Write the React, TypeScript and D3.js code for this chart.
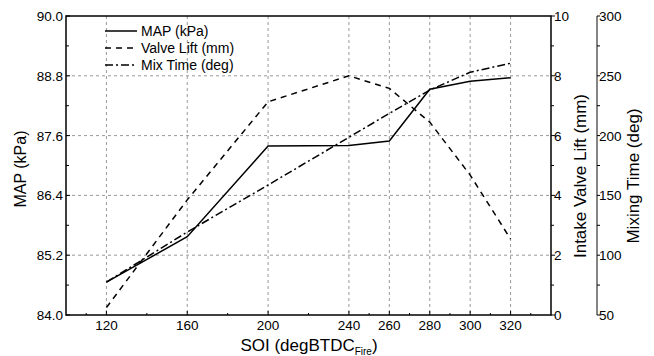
import React from "react";
import * as d3 from "d3";

const soi = [120, 160, 200, 240, 260, 280, 300, 320];
const mapKpa = [84.66, 85.57, 87.39, 87.4, 87.49, 88.53, 88.69, 88.76];
const valveLift = [0.25, 3.85, 7.13, 8.0, 7.58, 6.45, 4.68, 2.54];
const mixTime = [77.5, 119.4, 158.7, 198.6, 218.6, 238, 253, 260.5];

const xTicks = [120, 160, 200, 240, 260, 280, 300, 320];
const xMinor = [110, 140, 180, 220, 250, 270, 290, 310, 330];
const yLeftTicks = [84.0, 85.2, 86.4, 87.6, 88.8, 90.0];
const yRightTicks = [0, 2, 4, 6, 8, 10];
const yMixTicks = [50, 100, 150, 200, 250, 300];

const legendItems = [
  { label: "MAP (kPa)", dash: "none" },
  { label: "Valve Lift (mm)", dash: "6,5" },
  { label: "Mix Time (deg)", dash: "8,3,2,3" },
];

export default function App() {
  const L = 66, R = 551, T = 16, B = 315;
  const x = d3.scaleLinear().domain([100, 340]).range([L, R]);
  const yL = d3.scaleLinear().domain([84, 90]).range([B, T]);
  const yR = d3.scaleLinear().domain([0, 10]).range([B, T]);
  const yM = d3.scaleLinear().domain([50, 300]).range([B, T]);
  const font = "Liberation Sans, Arial, sans-serif";

  const line = (ys: number[], sc: d3.ScaleLinear<number, number>) =>
    d3.line<number>().x((_, i) => x(soi[i])).y((v) => sc(v))(ys) || "";

  const mixAxisX = 597;

  return (
    <svg width={654} height={356} style={{ position: "absolute", left: 0, top: 0 }} fontFamily={font}>
      <rect width={654} height={356} fill="white" />
      {/* grid */}
      {xTicks.map((t) => (
        <line key={"gx" + t} x1={x(t)} x2={x(t)} y1={T} y2={B} stroke="#999" strokeDasharray="3,3" strokeWidth={1} />
      ))}
      {yLeftTicks.slice(1, -1).map((t) => (
        <line key={"gy" + t} x1={L} x2={R} y1={yL(t)} y2={yL(t)} stroke="#999" strokeDasharray="3,3" strokeWidth={1} />
      ))}
      {/* data lines */}
      <path d={line(mapKpa, yL)} fill="none" stroke="black" strokeWidth={1.5} />
      <path d={line(valveLift, yR)} fill="none" stroke="black" strokeWidth={1.5} strokeDasharray="6,5" />
      <path d={line(mixTime, yM)} fill="none" stroke="black" strokeWidth={1.5} strokeDasharray="8,3,2,3" />
      {/* frame */}
      <rect x={L} y={T} width={R - L} height={B - T} fill="none" stroke="black" strokeWidth={1.5} />
      {/* x axis ticks */}
      {xTicks.map((t) => (
        <g key={"xt" + t}>
          <line x1={x(t)} x2={x(t)} y1={B} y2={B - 4} stroke="black" />
          <text x={x(t)} y={B + 15} textAnchor="middle" fontSize={13.5}>{t}</text>
        </g>
      ))}
      {xMinor.map((t) => (
        <line key={"xm" + t} x1={x(t)} x2={x(t)} y1={B} y2={B - 2} stroke="black" />
      ))}
      {/* left axis */}
      {yLeftTicks.map((t) => (
        <g key={"yl" + t}>
          <line x1={L} x2={L + 4} y1={yL(t)} y2={yL(t)} stroke="black" />
          <text x={L - 3} y={yL(t) + 5} textAnchor="end" fontSize={13.5}>{t.toFixed(1)}</text>
        </g>
      ))}
      {yLeftTicks.slice(0, -1).map((t) => (
        <line key={"ylm" + t} x1={L} x2={L + 3} y1={yL(t + 0.6)} y2={yL(t + 0.6)} stroke="black" />
      ))}
      {/* right axis */}
      {yRightTicks.map((t) => (
        <g key={"yr" + t}>
          <line x1={R} x2={R + 4} y1={yR(t)} y2={yR(t)} stroke="black" />
          <text x={R + 3} y={yR(t) + 5} textAnchor="start" fontSize={13.5}>{t}</text>
        </g>
      ))}
      {yRightTicks.slice(0, -1).map((t) => (
        <line key={"yrm" + t} x1={R} x2={R + 3} y1={yR(t + 1)} y2={yR(t + 1)} stroke="black" />
      ))}
      {/* mix axis */}
      <line x1={mixAxisX} x2={mixAxisX} y1={T} y2={B} stroke="#333" strokeWidth={1.2} />
      {yMixTicks.map((t) => (
        <g key={"ym" + t}>
          <line x1={mixAxisX} x2={mixAxisX + 3} y1={yM(t)} y2={yM(t)} stroke="black" />
          <text x={mixAxisX + 2} y={yM(t) + 5} textAnchor="start" fontSize={13.5}>{t}</text>
        </g>
      ))}
      {yMixTicks.slice(0, -1).map((t) => (
        <line key={"ymm" + t} x1={mixAxisX} x2={mixAxisX + 3} y1={yM(t + 25)} y2={yM(t + 25)} stroke="black" />
      ))}
      {/* axis titles */}
      <text transform={`translate(26,169) rotate(-90)`} textAnchor="middle" fontSize={16}>MAP (kPa)</text>
      <text transform={`translate(586,176) rotate(-90)`} textAnchor="middle" fontSize={17}>Intake Valve Lift (mm)</text>
      <text transform={`translate(639,176) rotate(-90)`} textAnchor="middle" fontSize={17}>Mixing Time (deg)</text>
      <text x={309} y={351} textAnchor="middle" fontSize={17}>
        SOI (degBTDC<tspan fontSize={10} dy={4}>Fire</tspan><tspan dy={-4}>)</tspan>
      </text>
      {/* legend */}
      {legendItems.map((it, i) => (
        <g key={"lg" + i}>
          <line x1={105} x2={137} y1={31 + i * 17} y2={31 + i * 17} stroke="black" strokeWidth={1.5} strokeDasharray={it.dash} />
          <text x={141} y={36 + i * 17} fontSize={14}>{it.label}</text>
        </g>
      ))}
    </svg>
  );
}
